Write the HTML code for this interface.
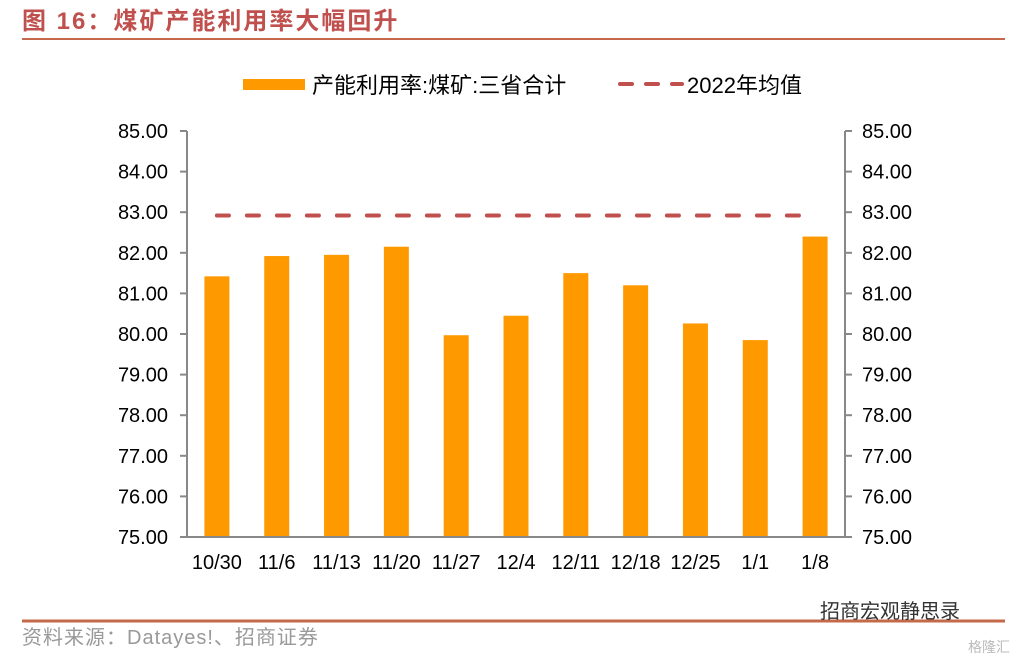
<!DOCTYPE html>
<html><head><meta charset="utf-8"><style>
body{margin:0;background:#fff;width:1027px;height:661px;overflow:hidden;font-family:"Liberation Sans","Noto Sans CJK SC",sans-serif;}
</style></head><body>
<svg width="1027" height="661" xmlns="http://www.w3.org/2000/svg" font-family="Liberation Sans, Noto Sans CJK SC, sans-serif">
<text x="22" y="29" font-size="24" font-weight="bold" letter-spacing="2" fill="#c0504d">图 16：煤矿产能利用率大幅回升</text>
<line x1="22" y1="39" x2="1005" y2="39" stroke="#c46a4a" stroke-width="2"/>
<g>
<rect x="243" y="79" width="62" height="11" fill="#ff9900"/>
<text x="312" y="93" font-size="22" fill="#000">产能利用率:煤矿:三省合计</text>
<line x1="620" y1="84" x2="682" y2="84" stroke="#c0504d" stroke-width="4" stroke-dasharray="12,14" stroke-linecap="round"/>
<text x="687" y="93" font-size="22" fill="#000">2022年均值</text>
</g>
<g id="plot"></g>
<line x1="22" y1="621" x2="1005" y2="621" stroke="#c46a4a" stroke-width="3"/>
<text x="22" y="644" font-size="20" letter-spacing="1" fill="#999">资料来源：Datayes!、招商证券</text>
<text x="820" y="618" font-size="20" fill="#333">招商宏观静思录</text>
<text x="968" y="652" font-size="14" fill="#bbb">格隆汇</text>
</svg>
<script>
const categories=["10/30","11/6","11/13","11/20","11/27","12/4","12/11","12/18","12/25","1/1","1/8"];
const values=[81.42,81.92,81.95,82.15,79.97,80.45,81.5,81.2,80.26,79.85,82.4];
const meanValue=82.92;
const yTicks=[75,76,77,78,79,80,81,82,83,84,85];
const NS="http://www.w3.org/2000/svg";
const g=document.getElementById('plot');
const L=187,R=845,T=131,B=537,ymin=75,ymax=85;
const y=v=>B-(v-ymin)/(ymax-ymin)*(B-T);
const bw=(R-L)/categories.length;
const x=i=>L+bw*(i+0.5);
function mk(t,a){const e=document.createElementNS(NS,t);for(const k in a)e.setAttribute(k,a[k]);g.appendChild(e);return e;}
values.forEach((v,i)=>{const r=mk('rect',{x:x(i)-12.5,y:y(v),width:25,height:B-y(v),fill:'#ff9900'});

});
const ml=mk('line',{x1:x(0),x2:x(categories.length-1),y1:y(meanValue),y2:y(meanValue),stroke:'#c0504d','stroke-width':4,'stroke-dasharray':'12,18','stroke-linecap':'round'});


[[L,-7,'end',168],[R,7,'start',862]].forEach(([ax,d,anc,tx],s)=>{
const a=mk('line',{x1:ax,x2:ax,y1:T,y2:B,stroke:'#888','stroke-width':2});


yTicks.forEach(t=>{mk('line',{x1:ax,x2:ax+d,y1:y(t),y2:y(t),stroke:'#888','stroke-width':2});
const l=mk('text',{x:tx,y:y(t)+7,'font-size':20,'text-anchor':anc,fill:'#000'});l.textContent=t.toFixed(2);

});});
const xa=mk('line',{x1:L,x2:R,y1:B,y2:B,stroke:'#888','stroke-width':2});


categories.forEach((c,i)=>{const l=mk('text',{x:x(i),y:569,'font-size':20,'text-anchor':'middle',fill:'#000'});l.textContent=c;

});
</script>
</body></html>
